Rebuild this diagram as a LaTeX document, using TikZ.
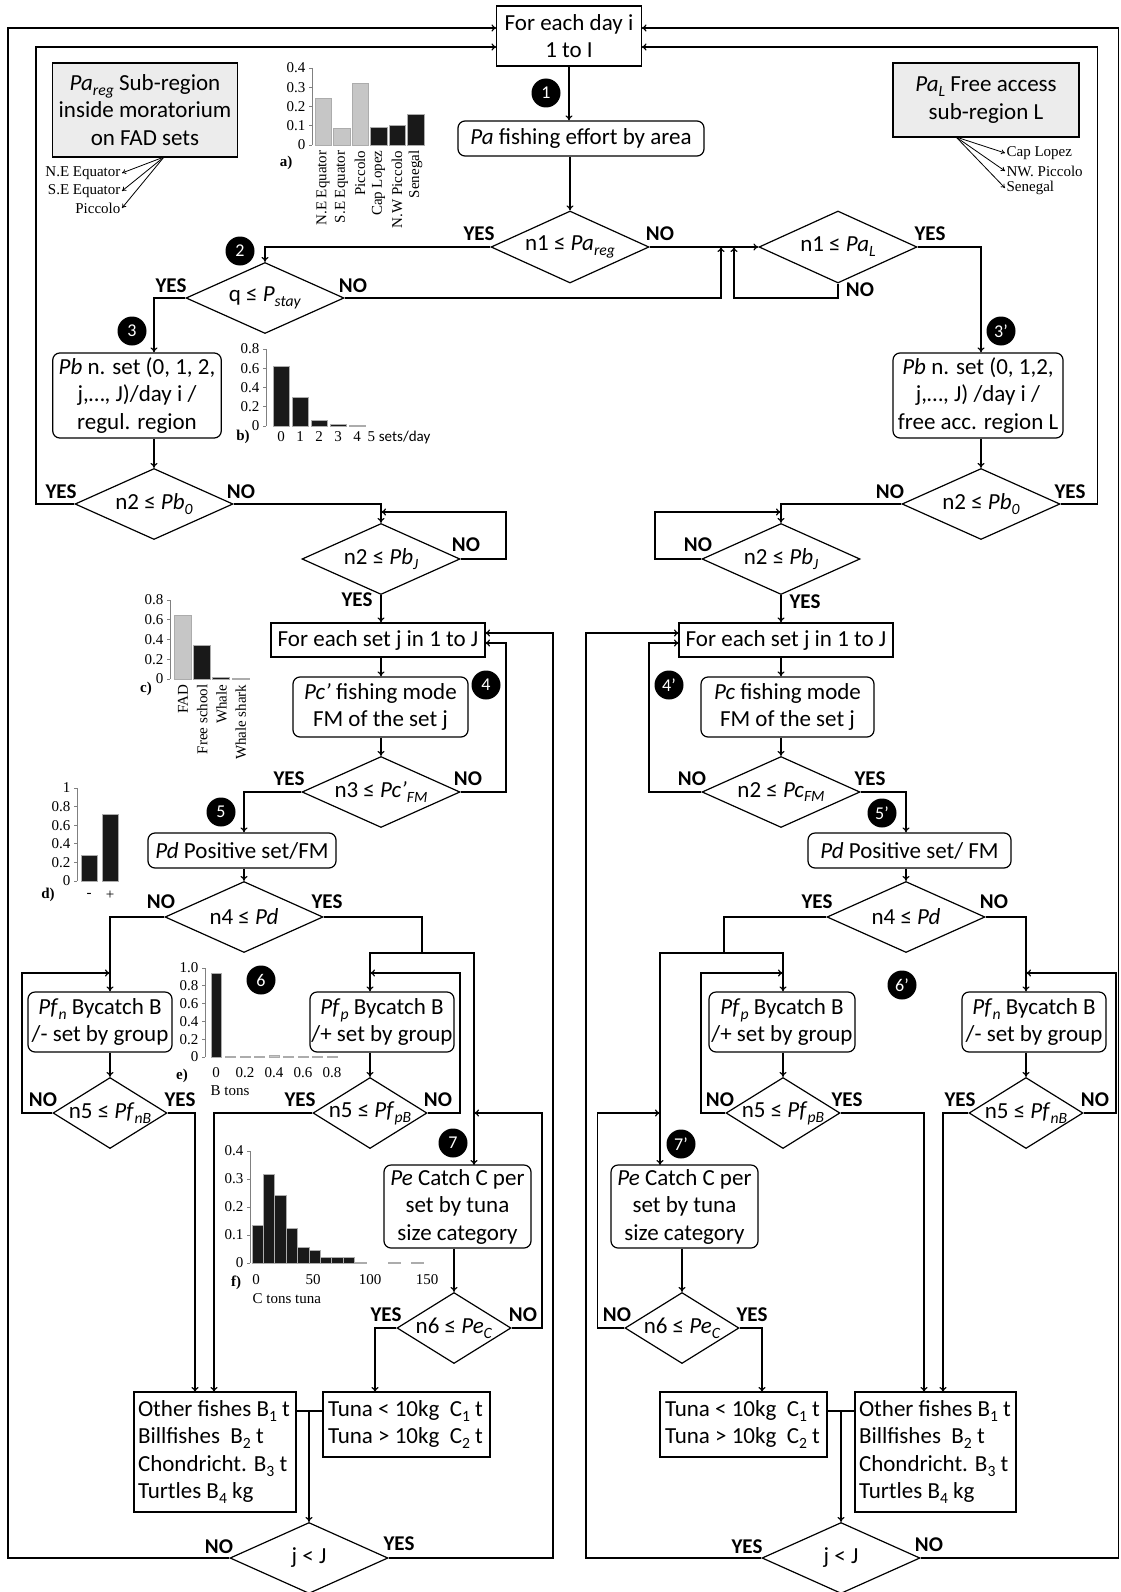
\documentclass[tikz,border=0pt]{standalone}
\usepackage{fontspec}
\setmainfont{Carlito}
\newfontfamily\chartserif{Liberation Serif}
\usetikzlibrary{shapes.geometric,arrows.meta}
\newcommand{\boxfnt}{\fontsize{23}{27.5}\selectfont}
\newcommand{\ynfnt}{\fontsize{21}{24}\selectfont\bfseries}
\newcommand{\mkfnt}{\fontsize{18}{20}\selectfont}
\newcommand{\chfnt}{\chartserif\fontsize{15}{17}\selectfont}
\newcommand{\lowsub}[1]{\raisebox{-0.45ex}{\scalebox{0.68}{#1}}}
\newcommand{\midtext}[1]{\makebox[0pt]{#1}}
\begin{document}
\begin{tikzpicture}[x=1pt,y=-1pt,line width=1.2pt,
  box/.style={draw,inner sep=0pt,align=center,font=\boxfnt},
  rbox/.style={box,rounded corners=7pt},
  gbox/.style={box,fill=gray!15},
  lbox/.style={box,align=flush left,inner xsep=4pt},
  dec/.style={draw,diamond,inner sep=0pt,aspect=2.2,minimum width=158pt,minimum height=71pt,font=\boxfnt},
  decs/.style={dec,minimum width=114pt},
  yn/.style={inner sep=0pt,font=\ynfnt},
  mk/.style={circle,fill=black,text=white,minimum size=29pt,inner sep=0pt,font=\mkfnt},
  ar/.style={-{To[length=5pt,width=7pt]}},
  reg/.style={inner sep=1pt,font=\chfnt},
  axis/.style={draw=gray,line width=0.8pt},
  barg/.style={fill=gray!45,draw=gray!65,line width=0.7pt},
  bark/.style={fill=black!90,draw=gray!65,line width=0.7pt}]
\useasboundingbox (0,0) rectangle (1120,1592);

\node[box,minimum width=145pt,minimum height=60pt] (top) at (569,36) {For each day i\\1 to I};
\node[rbox,minimum width=246pt,minimum height=35pt] (pa) at (581,138.5) {\textit{Pa} fishing effort by area};
\node[gbox,minimum width=185pt,minimum height=94pt] (preg) at (145,110) {\textit{Pa}\lowsub{\textit{reg}} Sub-region\\inside moratorium\\on FAD sets};
\node[gbox,minimum width=186pt,minimum height=74pt] (pal) at (986,100) {\textit{Pa}\lowsub{\textit{L}} Free access\\sub-region L};

\coordinate (pregfoot) at (164,157);
\node[reg,anchor=east] (ne) at (122,173) {N.E Equator};
\node[reg,anchor=east] (se) at (122,191) {S.E Equator};
\node[reg,anchor=east] (pic) at (122,208) {Piccolo};
\coordinate (palfoot) at (956,137);
\node[reg,anchor=west] (cl) at (1005,153) {Cap Lopez};
\node[reg,anchor=west] (nwp) at (1005,171) {NW. Piccolo};
\node[reg,anchor=west] (sen) at (1005,188) {Senegal};
\begin{scope}[line width=0.8pt,-{To[length=4pt,width=5pt]}]
  \draw (pregfoot) -- (ne.east);
  \draw (pregfoot) -- (se.east);
  \draw (pregfoot) -- (pic.east);
  \draw (palfoot) -- (cl.west);
  \draw (palfoot) -- (nwp.west);
  \draw (palfoot) -- (sen.west);
\end{scope}

\node[mk] (m1) at (546,93) {1};
\node[mk] (m2) at (240,251) {2};
\node[mk] (m3) at (132,331) {3};
\node[mk] (m3r) at (1001,331) {3’};
\node[mk] (m4) at (486,685) {4};
\node[mk] (m4r) at (669,685) {4’};
\node[mk] (m5) at (221,812) {5};
\node[mk] (m5r) at (882,813) {5’};
\node[mk] (m6) at (261,980) {6};
\node[mk] (m6r) at (902,985) {6’};
\node[mk] (m7) at (453,1143) {7};
\node[mk] (m7r) at (681,1144) {7’};

\node[dec,minimum height=72pt] (d1) at (570,247) {\midtext{n1 ≤ \textit{Pa}\lowsub{\textit{reg}}}};
\node[dec] (dq) at (265,298) {\midtext{q ≤ \textit{P}\lowsub{\textit{stay}}}};
\node[dec,minimum height=72pt] (dl) at (838,247) {\midtext{n1 ≤ \textit{Pa}\lowsub{\textit{L}}}};
\node[rbox,minimum width=168.5pt,minimum height=85pt] (pb) at (137,395.5) {\textit{Pb} n. set (0, 1, 2,\\j,…, J)/day i /\\regul. region};
\node[rbox,minimum width=170pt,minimum height=85pt] (pbr) at (978,395.5) {\textit{Pb} n. set (0, 1,2,\\j,…, J) /day i /\\free acc. region L};
\node[dec] (d0) at (154,504) {\midtext{n2 ≤ \textit{Pb}\lowsub{\textit{0}}}};
\node[dec] (d0r) at (981,504) {\midtext{n2 ≤ \textit{Pb}\lowsub{\textit{0}}}};
\node[dec] (dj) at (381,559) {\midtext{n2 ≤ \textit{Pb}\lowsub{\textit{J}}}};
\node[dec] (djr) at (781,559) {\midtext{n2 ≤ \textit{Pb}\lowsub{\textit{J}}}};
\node[box,minimum width=214pt,minimum height=34pt] (set) at (378,640) {For each set j in 1 to J};
\node[box,minimum width=214pt,minimum height=34pt] (setr) at (786,640) {For each set j in 1 to J};
\node[rbox,minimum width=175pt,minimum height=60pt] (pc) at (380.5,707) {\textit{Pc’} fishing mode\\FM of the set j};
\node[rbox,minimum width=173pt,minimum height=60pt] (pcr) at (787.5,707) {\textit{Pc} fishing mode\\FM of the set j};
\node[dec] (d3) at (381,792) {\midtext{n3 ≤ \textit{Pc’}\lowsub{\textit{FM}}}};
\node[dec] (d3r) at (781,792) {\midtext{n2 ≤ \textit{Pc}\lowsub{\textit{FM}}}};
\node[rbox,minimum width=188pt,minimum height=35pt] (pd) at (242,850.5) {\textit{Pd} Positive set/FM};
\node[rbox,minimum width=203pt,minimum height=35pt] (pdr) at (909.5,850.5) {\textit{Pd} Positive set/ FM};
\node[dec] (d4) at (244,917) {\midtext{n4 ≤ \textit{Pd}}};
\node[dec] (d4r) at (906,917) {\midtext{n4 ≤ \textit{Pd}}};
\node[rbox,minimum width=144pt,minimum height=60pt] (pfn) at (100,1022) {\textit{Pf}\lowsub{\textit{n}} Bycatch B\\/- set by group};
\node[rbox,minimum width=144pt,minimum height=60pt] (pfp) at (382,1022) {\textit{Pf}\lowsub{\textit{p}} Bycatch B\\/+ set by group};
\node[rbox,minimum width=146pt,minimum height=60pt] (pfpr) at (782,1022) {\textit{Pf}\lowsub{\textit{p}} Bycatch B\\/+ set by group};
\node[rbox,minimum width=144pt,minimum height=60pt] (pfnr) at (1034,1022) {\textit{Pf}\lowsub{\textit{n}} Bycatch B\\/- set by group};
\node[decs] (d5n) at (110,1113) {\midtext{n5 ≤ \textit{Pf}\lowsub{\textit{nB}}}};
\node[decs] (d5p) at (370,1113) {\midtext{n5 ≤ \textit{Pf}\lowsub{\textit{pB}}}};
\node[decs] (d5pr) at (783,1113) {\midtext{n5 ≤ \textit{Pf}\lowsub{\textit{pB}}}};
\node[decs] (d5nr) at (1026,1113) {\midtext{n5 ≤ \textit{Pf}\lowsub{\textit{nB}}}};
\node[rbox,minimum width=147pt,minimum height=83pt] (pe) at (457.5,1206.5) {\textit{Pe} Catch C per\\set by tuna\\size category};
\node[rbox,minimum width=147pt,minimum height=83pt] (per) at (684.5,1206.5) {\textit{Pe} Catch C per\\set by tuna\\size category};
\node[decs] (d6) at (454,1328) {\midtext{n6 ≤ \textit{Pe}\lowsub{\textit{C}}}};
\node[decs] (d6r) at (682,1328) {\midtext{n6 ≤ \textit{Pe}\lowsub{\textit{C}}}};
\node[lbox,text width=154pt,minimum height=120pt] (oth) at (215,1452) {Other fishes B\lowsub{1} t\\Billfishes\ \ B\lowsub{2} t\\Chondricht. B\lowsub{3} t\\Turtles B\lowsub{4} kg};
\node[lbox,inner xsep=5pt,text width=157pt,minimum height=65pt] (tun) at (406.5,1424.5) {Tuna < 10kg\ \ C\lowsub{1} t\\Tuna > 10kg\ \ C\lowsub{2} t};
\node[lbox,inner xsep=5pt,text width=157pt,minimum height=65pt] (tunr) at (743.5,1424.5) {Tuna < 10kg\ \ C\lowsub{1} t\\Tuna > 10kg\ \ C\lowsub{2} t};
\node[lbox,text width=153pt,minimum height=120pt] (othr) at (935.5,1452) {Other fishes B\lowsub{1} t\\Billfishes\ \ B\lowsub{2} t\\Chondricht. B\lowsub{3} t\\Turtles B\lowsub{4} kg};
\node[dec] (dj2) at (309,1558) {\midtext{j < J}};
\node[dec] (dj2r) at (841,1558) {\midtext{j < J}};

\node[yn] (y1) at (479,234) {YES};
\node[yn] (n1) at (660,234) {NO};
\node[yn] (yq) at (171,286) {YES};
\node[yn] (nq) at (353,286) {NO};
\node[yn] (nl) at (860,290) {NO};
\node[yn] (yl) at (930,234) {YES};
\node[yn] (y0) at (61,492) {YES};
\node[yn] (n0) at (241,492) {NO};
\node[yn] (n0r) at (890,492) {NO};
\node[yn] (y0r) at (1070,492) {YES};
\node[yn] (nj) at (466,545) {NO};
\node[yn] (yj) at (357,600) {YES};
\node[yn] (njr) at (698,545) {NO};
\node[yn] (yjr) at (805,602) {YES};
\node[yn] (y3) at (289,779) {YES};
\node[yn] (n3) at (468,779) {NO};
\node[yn] (n3r) at (692,779) {NO};
\node[yn] (y3r) at (870,779) {YES};
\node[yn] (n4) at (161,902) {NO};
\node[yn] (y4) at (327,902) {YES};
\node[yn] (y4r) at (817,902) {YES};
\node[yn] (n4r) at (994,902) {NO};
\node[yn] (n5n) at (43,1100) {NO};
\node[yn] (y5n) at (180,1100) {YES};
\node[yn] (y5p) at (300,1100) {YES};
\node[yn] (n5p) at (438,1100) {NO};
\node[yn] (n5pr) at (720,1100) {NO};
\node[yn] (y5pr) at (847,1100) {YES};
\node[yn] (y5nr) at (960,1100) {YES};
\node[yn] (n5nr) at (1095,1100) {NO};
\node[yn] (y6) at (386,1315) {YES};
\node[yn] (n6) at (523,1315) {NO};
\node[yn] (n6r) at (617,1315) {NO};
\node[yn] (y6r) at (752,1315) {YES};
\node[yn] (nj2) at (219,1547) {NO};
\node[yn] (yj2) at (399,1544) {YES};
\node[yn] (yj2r) at (747,1547) {YES};
\node[yn] (nj2r) at (929,1545) {NO};

\coordinate (topin1) at (496.5,28);
\coordinate (topin2) at (496.5,47);
\coordinate (topin3) at (641.5,28);
\coordinate (topin4) at (641.5,47);
\coordinate (cA) at (36,47);
\coordinate (cB) at (1097.5,47);
\coordinate (cC) at (8,28);
\coordinate (cD) at (1118.5,28);
\coordinate (cE) at (721,247);
\coordinate (cF) at (734,247);
\coordinate (rL) at (506,512);
\coordinate (cG) at (381,512);
\coordinate (rL2) at (655,512);
\coordinate (cG2) at (781,512);
\coordinate (setin1) at (485,633);
\coordinate (setin2) at (485,643);
\coordinate (setrin1) at (679,633);
\coordinate (setrin2) at (679,643);
\coordinate (cH) at (506,643);
\coordinate (cI) at (553,633);
\coordinate (cH2) at (649,643);
\coordinate (cI2) at (586,633);
\coordinate (cJ) at (422,953);
\coordinate (cJ2) at (724,953);
\coordinate (pein) at (474,1165);
\coordinate (perin) at (660,1165);
\coordinate (cL) at (22,973);
\coordinate (cL2) at (110,973);
\coordinate (cN) at (460,973);
\coordinate (cN2) at (370,973);
\coordinate (cN3) at (701,973);
\coordinate (cN4) at (783,973);
\coordinate (cL3) at (1116,973);
\coordinate (cL4) at (1026,973);
\coordinate (cO) at (542,1113);
\coordinate (cO2) at (474,1113);
\coordinate (cO3) at (597.5,1113);
\coordinate (cO4) at (660,1113);
\coordinate (othin1) at (195,1392);
\coordinate (othin2) at (214,1392);
\coordinate (othrin1) at (924,1392);
\coordinate (othrin2) at (943,1392);
\coordinate (tunin) at (375,1392);
\coordinate (tunrin) at (762,1392);
\coordinate (cP) at (309,1411);
\coordinate (cP2) at (841,1411);

\begin{scope}[ar]
  \draw (top.south) -- (top.south |- pa.north);
  \draw (pa.south -| d1) -- (d1.north);
  \draw (d1.west) -| (dq.north);
  \draw (d1.east) -- (dl.west);
  \draw (dq.east) -| (cE);
  \draw (dl.south) -- (dl.south |- dq.east) -| (cF);
  \draw (dq.west) -| (d0 |- pb.north);
  \draw (dl.east) -| (d0r |- pbr.north);
  \draw (d0 |- pb.south) -- (d0.north);
  \draw (d0r |- pbr.south) -- (d0r.north);
  \draw (d0.west) -| (cA) -- (topin2);
  \draw (d0r.east) -| (cB) -- (topin4);
  \draw (d0.east) -| (dj.north);
  \draw (d0r.west) -| (djr.north);
  \draw (dj.east) -| (rL) -- (cG);
  \draw (djr.west) -| (rL2) -- (cG2);
  \draw (dj.south) -- (dj.south |- set.north);
  \draw (djr.south) -- (djr.south |- setr.north);
  \draw (set.south -| dj) -- (pc.north -| dj);
  \draw (setr.south -| djr) -- (pcr.north -| djr);
  \draw (pc.south -| d3) -- (d3.north);
  \draw (pcr.south -| d3r) -- (d3r.north);
  \draw (d3.east) -| (cH) -- (setin2);
  \draw (d3r.west) -| (cH2) -- (setrin2);
  \draw (dj2.east) -| (cI) -- (setin1);
  \draw (dj2r.west) -| (cI2) -- (setrin1);
  \draw (dj2.west) -| (cC) -- (topin1);
  \draw (dj2r.east) -| (cD) -- (topin3);
  \draw (d3.west) -| (d4 |- pd.north);
  \draw (d3r.east) -| (d4r |- pdr.north);
  \draw (d4 |- pd.south) -- (d4.north);
  \draw (d4r |- pdr.south) -- (d4r.north);
  \draw (d4.west) -| (d5n |- pfn.north);
  \draw (d4r.east) -| (d5nr |- pfnr.north);
  \draw[-] (d4.east) -| (cJ);
  \draw (cJ) -| (d5p |- pfp.north);
  \draw (cJ) -| (pein);
  \draw[-] (d4r.west) -| (cJ2);
  \draw (cJ2) -| (d5pr |- pfpr.north);
  \draw (cJ2) -| (perin);
  \draw (d5n |- pfn.south) -- (d5n.north);
  \draw (d5p |- pfp.south) -- (d5p.north);
  \draw (d5pr |- pfpr.south) -- (d5pr.north);
  \draw (d5nr |- pfnr.south) -- (d5nr.north);
  \draw (d5n.west) -| (cL) -- (cL2);
  \draw (d5p.east) -| (cN) -- (cN2);
  \draw (d5pr.west) -| (cN3) -- (cN4);
  \draw (d5nr.east) -| (cL3) -- (cL4);
  \draw (d5n.east) -| (othin1);
  \draw (d5p.west) -| (othin2);
  \draw (d5pr.east) -| (othrin1);
  \draw (d5nr.west) -| (othrin2);
  \draw (d6 |- pe.south) -- (d6.north);
  \draw (d6r |- per.south) -- (d6r.north);
  \draw (d6.east) -| (cO) -- (cO2);
  \draw (d6r.west) -| (cO3) -- (cO4);
  \draw (d6.west) -| (tunin);
  \draw (d6r.east) -| (tunrin);
  \draw[-] (oth.east |- cP) -- (tun.west |- cP);
  \draw (cP) -- (dj2.north);
  \draw[-] (tunr.east |- cP2) -- (othr.west |- cP2);
  \draw (cP2) -- (dj2r.north);
\end{scope}

\draw[axis] (312,68) -- (312,145);
\foreach \t/\lab in {0/0,1/0.1,2/0.2,3/0.3,4/0.4} {
  \draw[axis] (309,{145-19.25*\t}) -- (312,{145-19.25*\t});
  \node[reg,anchor=east] (ta\t) at (307,{145-19.25*\t}) {\lab};
}
\foreach \i/\h/\s in {0/0.24/barg,1/0.088/barg,2/0.32/barg,3/0.094/bark,4/0.104/bark,5/0.161/bark}
  \draw[\s] ({315+18.5*\i},145) rectangle ++(16.5,{-192.5*\h});
\foreach \i/\lab in {0/N.E Equator,1/S.E Equator,2/Piccolo,3/Cap Lopez,4/N.W Piccolo,5/Senegal}
  \node[reg,rotate=90,anchor=east] (la\i) at ({323+18.5*\i},149) {\lab};
\node[reg,font=\chfnt\bfseries] (lbla) at (286,163) {a)};

\draw[axis] (266,349) -- (266,426);
\foreach \t/\lab in {0/0,1/0.2,2/0.4,3/0.6,4/0.8} {
  \draw[axis] (263,{426-19.25*\t}) -- (266,{426-19.25*\t});
  \node[reg,anchor=east] (tb\t) at (261,{426-19.25*\t}) {\lab};
}
\foreach \i/\h in {0/0.62,1/0.30,2/0.06,3/0.012,4/0.005}
  \draw[bark] ({273+19*\i},426) rectangle ++(16,{-96.25*\h});
\foreach \i in {0,1,2,3,4}
  \node[reg] (xb\i) at ({281+19*\i},437) {\i};
\node[reg,anchor=west] (xb5) at (366,437) {5 {\normalfont\fontsize{15}{17}\selectfont sets/day}};
\node[reg,font=\chfnt\bfseries] (lblb) at (243,437) {b)};

\draw[axis] (170,600) -- (170,679);
\foreach \t/\lab in {0/0,1/0.2,2/0.4,3/0.6,4/0.8} {
  \draw[axis] (167,{679-19.75*\t}) -- (170,{679-19.75*\t});
  \node[reg,anchor=east] (tc\t) at (165,{679-19.75*\t}) {\lab};
}
\foreach \i/\h/\s in {0/0.64/barg,1/0.34/bark,2/0.02/bark,3/0.005/barg}
  \draw[\s] ({174+19.3*\i},679) rectangle ++(17,{-98.75*\h});
\foreach \i/\lab in {0/FAD,1/Free school,2/Whale,3/Whale shark}
  \node[reg,rotate=90,anchor=east] (lc\i) at ({183+19.3*\i},683) {\lab};
\node[reg,font=\chfnt\bfseries] (lblc) at (146,689) {c)};

\draw[axis] (77,788) -- (77,881);
\foreach \t/\lab in {0/0,1/0.2,2/0.4,3/0.6,4/0.8,5/1} {
  \draw[axis] (74,{881-18.6*\t}) -- (77,{881-18.6*\t});
  \node[reg,anchor=east] (td\t) at (72,{881-18.6*\t}) {\lab};
}
\draw[bark] (81,881) rectangle ++(16,{-93*0.28});
\draw[bark] (102,881) rectangle ++(16,{-93*0.72});
\node[reg] (xdm) at (89,895) {-};
\node[reg] (xdp) at (110,895) {+};
\node[reg,font=\chfnt\bfseries] (lbld) at (48,895) {d)};

\draw[axis] (205,968) -- (205,1057);
\foreach \t/\lab in {0/0,1/0.2,2/0.4,3/0.6,4/0.8,5/1.0} {
  \draw[axis] (202,{1057-17.8*\t}) -- (205,{1057-17.8*\t});
  \node[reg,anchor=east] (te\t) at (200,{1057-17.8*\t}) {\lab};
}
\draw[bark] (211,1057) rectangle ++(10,{-89*0.94});
\foreach \i/\h in {1/0.01,2/0.008,3/0.01,4/0.02,5/0.008,6/0.008,7/0.008,8/0.008}
  \draw[barg] ({211+14.5*\i},1057) rectangle ++(10,{-89*\h});
\foreach \i/\lab in {0/0,1/0.2,2/0.4,3/0.6,4/0.8}
  \node[reg] (xe\i) at ({216+29*\i},1073) {\lab};
\node[reg,font=\chfnt\bfseries] (lble) at (182,1076) {e)};
\node[reg,anchor=west] (unite) at (209,1091) {B tons};

\draw[axis] (250,1151) -- (250,1263);
\foreach \t/\lab in {0/0,1/0.1,2/0.2,3/0.3,4/0.4} {
  \draw[axis] (247,{1263-28*\t}) -- (250,{1263-28*\t});
  \node[reg,anchor=east] (tf\t) at (245,{1263-28*\t}) {\lab};
}
\foreach \i/\h in {0/0.135,1/0.315,2/0.24,3/0.125,4/0.055,5/0.045,6/0.02,7/0.02,8/0.02}
  \draw[bark] ({252+11.4*\i},1263) rectangle ++(11.4,{-280*\h});
\foreach \i in {9,12,14}
  \draw[barg] ({252+11.4*\i},1263) rectangle ++(11.4,-1);
\foreach \i/\lab in {0/0,1/50,2/100,3/150}
  \node[reg] (xf\i) at ({256+57*\i},1280) {\lab};
\node[reg,font=\chfnt\bfseries] (lblf) at (236,1283) {f)};
\node[reg,anchor=west] (unitf) at (251,1299) {C tons tuna};
\end{tikzpicture}
\end{document}
